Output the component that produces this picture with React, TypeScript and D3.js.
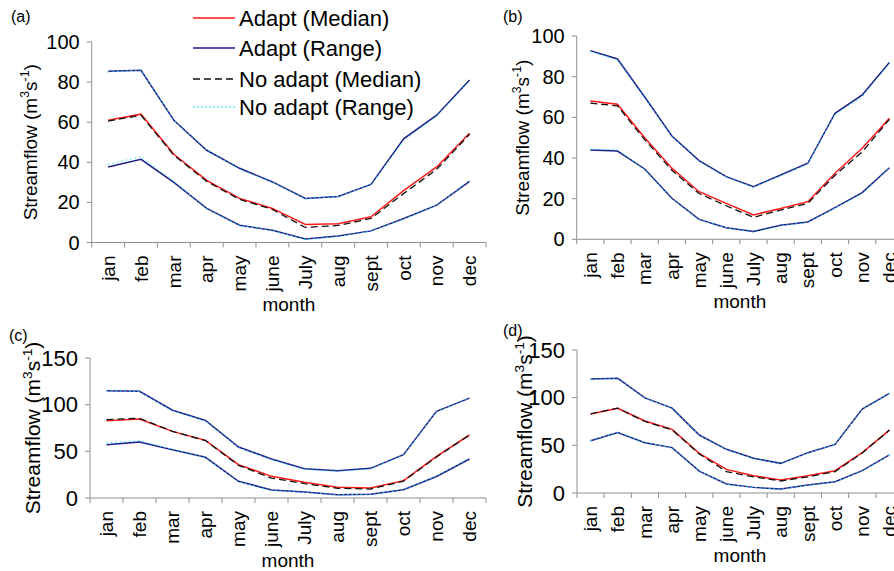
import * as d3 from "d3";

const months = ["jan", "feb", "mar", "apr", "may", "june", "July", "aug", "sept", "oct", "nov", "dec"];

// panel (a)
const adaptMedA = [61, 64, 44, 31, 22, 17, 9, 9.3, 12.8, 26, 37.7, 54.5];
const noMedA = [60.5, 63.5, 43.5, 30.5, 21.5, 16.5, 7.5, 8.5, 12, 24.5, 36.5, 54];
const adaptUpA = [85.4, 85.9, 61, 46, 37, 30.2, 22, 23, 29, 51.8, 63.5, 81];
const noUpA = [85, 86, 61, 46, 36.5, 30, 21.8, 23, 28.8, 51, 63, 80.5];
const adaptLoA = [37.7, 41.5, 30, 17, 8.6, 6.1, 1.7, 3.2, 5.8, 12, 18.6, 30.5];
const noLoA = [39, 42.8, 30.5, 16.8, 8.5, 6, 1.5, 3, 5.6, 11.8, 18.5, 31];

// panel (b)
const adaptMedB = [68, 66.4, 50, 35, 23.4, 17.7, 12, 15.2, 18.5, 32.5, 44.8, 59.5];
const noMedB = [67, 65.6, 49, 34, 22.5, 16.5, 10.8, 14.4, 17.7, 31.5, 43, 59];
const adaptUpB = [92.8, 88.7, 70, 50.8, 38.7, 30.8, 25.9, 31.6, 37.4, 62, 71, 87];
const noUpB = [92.3, 88.2, 69.5, 50.5, 38.3, 30.5, 25.6, 31.3, 37, 61.5, 70, 86.5];
const adaptLoB = [43.9, 43.4, 34.6, 20.2, 9.8, 5.7, 3.8, 6.9, 8.5, 15.6, 23, 35.2];
const noLoB = [44.4, 44, 34.2, 20, 9.6, 5.6, 3.5, 6.7, 8.3, 15.4, 22.5, 35];

// panel (c)
const adaptMedC = [82.9, 84.6, 71.4, 61.8, 35.7, 23.2, 16.8, 11.4, 10.7, 18.6, 44.6, 67.5];
const noMedC = [84, 85.4, 71.4, 61.5, 35, 21.4, 15.4, 10.4, 9.6, 18, 44, 67.5];
const adaptUpC = [115, 114.3, 94, 83, 54.6, 41.8, 31.4, 29.3, 31.8, 46.4, 92.9, 107];
const noUpC = [115.3, 114, 93.5, 82.5, 54, 41, 30.5, 28.5, 31, 46, 92.5, 107];
const adaptLoC = [57, 60, 51.8, 43.6, 17.9, 8.6, 6.4, 3.6, 3.9, 8.9, 23, 41.8];
const noLoC = [59, 61.4, 52, 43.4, 17.5, 8, 6.2, 3.5, 3.7, 8.6, 23.5, 42.5];

// panel (d)
const adaptMedD = [82.9, 88.8, 75.5, 66.8, 41.6, 24.8, 18.2, 13.6, 18.2, 23.4, 42.3, 66];
const noMedD = [83, 89, 75, 66.3, 41, 22.4, 17, 12.6, 17, 22.4, 42, 66];
const adaptUpD = [119.6, 120.3, 99.7, 89, 60.8, 45.8, 36.4, 31.1, 42.3, 51, 88, 104.5];
const noUpD = [119.3, 120, 99.5, 88.7, 60.5, 45.5, 36, 30.8, 42, 50.8, 87.7, 104.3];
const adaptLoD = [54.9, 63.3, 52.8, 47.6, 23, 9.4, 5.9, 4.2, 8.4, 11.9, 23.4, 39.9];
const noLoD = [55.2, 63.5, 53, 47.4, 22.8, 9.2, 5.7, 4, 8.2, 11.7, 23.2, 40];

const ticksSmall = [0, 20, 40, 60, 80, 100];
const ticksBig = [0, 50, 100, 150];

const legendLabels = ["Adapt (Median)", "Adapt (Range)", "No adapt (Median)", "No adapt (Range)"];

const RED = "#ff1a1a";
const NAVY = "#1e1e86";
const CYAN = "#22e4ff";
const AXIS = "#8f8f8f";
const FONT = '"Liberation Sans", Arial, Helvetica, sans-serif';

type PanelProps = {
  label: string;
  x0: number;
  x1: number;
  yTop: number;
  yBot: number;
  yMax: number;
  ticks: number[];
  tickFont: number;
  titleFont: number;
  titleX: number;
  labelX: number;
  labelY: number;
  adaptMed: number[];
  noMed: number[];
  adaptUp: number[];
  noUp: number[];
  adaptLo: number[];
  noLo: number[];
};

const Panel = (p: PanelProps) => {
  const x = d3.scaleBand<string>().domain(months).range([p.x0, p.x1]).padding(0);
  const y = d3.scaleLinear().domain([0, p.yMax]).range([p.yBot, p.yTop]);
  const line = d3
    .line<number>()
    .x((_, i) => (x(months[i]) as number) + x.bandwidth() / 2)
    .y((d) => y(d));
  const edges = months.map((m) => x(m) as number).concat([p.x1]);
  const midY = (p.yTop + p.yBot) / 2;
  const monthX = p.x1 > 894 ? (p.x0 + p.x1) / 2 : (p.x0 + p.x1) / 2;
  return (
    <g fontFamily={FONT}>
      <text x={p.labelX} y={p.labelY} fontSize={16}>
        ({p.label})
      </text>
      {/* axes */}
      <line x1={p.x0} x2={p.x0} y1={p.yTop} y2={p.yBot} stroke={AXIS} strokeWidth={1} />
      <line x1={p.x0} x2={p.x1} y1={p.yBot} y2={p.yBot} stroke={AXIS} strokeWidth={1} />
      {p.ticks.map((t) => (
        <g key={t}>
          <line x1={p.x0 - 5} x2={p.x0} y1={y(t)} y2={y(t)} stroke={AXIS} />
          <text x={p.x0 - 12} y={y(t)} textAnchor="end" dominantBaseline="central" fontSize={p.tickFont}>
            {t}
          </text>
        </g>
      ))}
      {edges.map((e, i) => (
        <line key={i} x1={e} x2={e} y1={p.yBot} y2={p.yBot + 5} stroke={AXIS} />
      ))}
      {months.map((m) => {
        const cx = (x(m) as number) + x.bandwidth() / 2;
        const ty = p.yBot + 13;
        return (
          <text
            key={m}
            transform={`translate(${cx},${ty}) rotate(-90)`}
            textAnchor="end"
            dy="0.35em"
            fontSize={19}
          >
            {m}
          </text>
        );
      })}
      <text x={monthX} y={p.yBot + 62} textAnchor="middle" dominantBaseline="central" fontSize={19}>
        month
      </text>
      <text transform={`translate(${p.titleX},${midY}) rotate(-90)`} textAnchor="middle" fontSize={p.titleFont}>
        Streamflow (m
        <tspan dy={-p.titleFont * 0.4} fontSize={p.titleFont * 0.65}>3</tspan>
        <tspan dy={p.titleFont * 0.4}>s</tspan>
        <tspan dy={-p.titleFont * 0.4} fontSize={p.titleFont * 0.65}>-1</tspan>
        <tspan dy={p.titleFont * 0.4}>)</tspan>
      </text>
      {/* series */}
      <path d={line(p.adaptUp) ?? ""} fill="none" stroke={NAVY} strokeWidth={1.5} />
      <path d={line(p.adaptLo) ?? ""} fill="none" stroke={NAVY} strokeWidth={1.5} />
      <path d={line(p.noUp) ?? ""} fill="none" stroke={CYAN} strokeWidth={1} strokeDasharray="1.5,3" />
      <path d={line(p.noLo) ?? ""} fill="none" stroke={CYAN} strokeWidth={1} strokeDasharray="1.5,3" />
      <path d={line(p.adaptMed) ?? ""} fill="none" stroke={RED} strokeWidth={1.5} />
      <path d={line(p.noMed) ?? ""} fill="none" stroke="#111" strokeWidth={1.3} strokeDasharray="7,4" />
    </g>
  );
};

const Legend = () => {
  const styles = [
    { stroke: RED, dash: undefined, w: 1.4 },
    { stroke: NAVY, dash: undefined, w: 1.4 },
    { stroke: "#111", dash: "7,4", w: 1.3 },
    { stroke: CYAN, dash: "2,2", w: 1.2 },
  ];
  const rows = [18, 48, 79, 107];
  return (
    <g fontFamily={FONT}>
      {legendLabels.map((l, i) => (
        <g key={l}>
          <line x1={193} x2={235} y1={rows[i]} y2={rows[i]} stroke={styles[i].stroke} strokeWidth={styles[i].w} strokeDasharray={styles[i].dash} />
          <text x={239} y={rows[i]} dominantBaseline="central" fontSize={22}>
            {l}
          </text>
        </g>
      ))}
    </g>
  );
};

export default function App() {
  return (
    <svg width={894} height={571} style={{ position: "absolute", left: 0, top: 0, background: "white" }}>
      <rect width={894} height={571} fill="white" />
      <Panel
        label="a" x0={91.7} x1={486} yTop={42} yBot={242.5} yMax={100} ticks={ticksSmall}
        tickFont={20} titleFont={19} titleX={37} labelX={11} labelY={22}
        adaptMed={adaptMedA} noMed={noMedA} adaptUp={adaptUpA} noUp={noUpA} adaptLo={adaptLoA} noLo={noLoA}
      />
      <Panel
        label="b" x0={576.7} x1={903} yTop={36} yBot={239.3} yMax={100} ticks={ticksSmall}
        tickFont={20} titleFont={19} titleX={529} labelX={503} labelY={22}
        adaptMed={adaptMedB} noMed={noMedB} adaptUp={adaptUpB} noUp={noUpB} adaptLo={adaptLoB} noLo={noLoB}
      />
      <Panel
        label="c" x0={90} x1={486} yTop={358} yBot={498} yMax={150} ticks={ticksBig}
        tickFont={22} titleFont={21} titleX={40} labelX={9} labelY={341}
        adaptMed={adaptMedC} noMed={noMedC} adaptUp={adaptUpC} noUp={noUpC} adaptLo={adaptLoC} noLo={noLoC}
      />
      <Panel
        label="d" x0={577} x1={903} yTop={350} yBot={493} yMax={150} ticks={ticksBig}
        tickFont={22} titleFont={21} titleX={532} labelX={503} labelY={336}
        adaptMed={adaptMedD} noMed={noMedD} adaptUp={adaptUpD} noUp={noUpD} adaptLo={adaptLoD} noLo={noLoD}
      />
      <Legend />
    </svg>
  );
}
